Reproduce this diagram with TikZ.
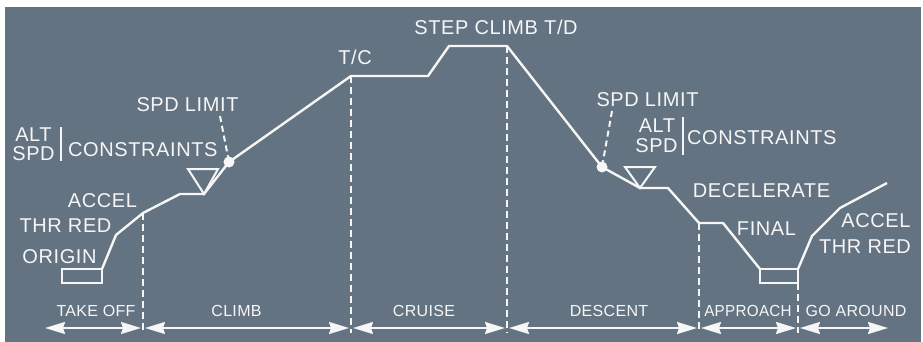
\documentclass[tikz,border=0pt]{standalone}
\usepackage{fontspec}
\setmainfont{Liberation Sans}
\newfontfamily\lblfont[LetterSpace=3]{Liberation Sans}
\newfontfamily\phfont[LetterSpace=2]{Liberation Sans}
\usetikzlibrary{arrows.meta}
\definecolor{bgslate}{RGB}{99,115,129}
\definecolor{ink}{RGB}{246,246,246}
\tikzset{
  lbl/.style={text=ink,inner sep=0pt,anchor=base,font=\lblfont\fontsize{20}{22}\selectfont},
  phase/.style={text=ink,inner sep=0pt,anchor=base,font=\phfont\fontsize{16}{18}\selectfont},
  profile/.style={draw=ink,line width=2.4pt,line join=miter},
  vdash/.style={draw=ink,line width=2pt,dash pattern=on 7pt off 4pt},
  ldash/.style={draw=ink,line width=2pt,dash pattern=on 6pt off 4pt},
  span/.style={draw=ink,line width=2pt,{Stealth[length=20pt,width=12pt,inset=2pt]}-{Stealth[length=20pt,width=12pt,inset=2pt]}},
  bar/.style={draw=ink,line width=2pt},
  spot/.style={circle,fill=ink,inner sep=0pt,minimum size=11pt}
}
\begin{document}
\begin{tikzpicture}[x=1pt,y=-1pt]
\useasboundingbox (0,0) rectangle (923,342);
\fill[white] (0,0) rectangle (923,342);
\fill[bgslate] (5,7) rectangle (921,342);

% profile points
\coordinate (to0) at (102,269);
\coordinate (to1) at (116,235);
\coordinate (to2) at (143,213);
\coordinate (cl1) at (180,194);
\coordinate (cl2) at (204,194);
\coordinate (cl3) at (229,162);
\coordinate (tc) at (351,76);
\coordinate (cr1) at (428,76);
\coordinate (cr2) at (449,46);
\coordinate (td) at (507,46);
\coordinate (de1) at (602,167);
\coordinate (de2) at (640,188);
\coordinate (de3) at (668,188);
\coordinate (ap0) at (699,223);
\coordinate (ap1) at (723,223);
\coordinate (ap2) at (760,269);
\coordinate (ga0) at (798,269);
\coordinate (ga1) at (812,236);
\coordinate (ga2) at (840,208);
\coordinate (ga3) at (887,183);

% runway boxes
\draw[profile,line width=2pt] (62,269) rectangle (102,283);
\draw[profile,line width=2pt] (760,269) rectangle (798,283);

% flight path
\draw[profile] (to0) -- (to1) -- (to2) -- (cl1) -- (cl2) -- (cl3) -- (tc) -- (cr1) -- (cr2) -- (td) -- (de1) -- (de2) -- (de3) -- (ap0) -- (ap1) -- (ap2);
\draw[profile] (ga0) -- (ga1) -- (ga2) -- (ga3);

% constraint triangles
\draw[bar] (188,169) -- (218,169) -- (cl2) -- cycle;
\draw[bar] (625,167) -- (655,167) -- (de2) -- cycle;

% speed limit dots
\node[spot] (dotL) at (cl3) {};
\node[spot] (dotR) at (de1) {};

% labels
\node[lbl] (spdL) at (187.5,112) {SPD LIMIT};
\node[lbl] (altL) at (33.5,142) {ALT};
\node[lbl] (spdaL) at (33.5,160) {SPD};
\node[lbl,anchor=base west] (conL) at (68,157) {CONSTRAINTS};
\node[lbl] (accL) at (102.5,207) {ACCEL};
\node[lbl] (thrL) at (65.5,232) {THR RED};
\node[lbl] (orig) at (59.5,263) {ORIGIN};
\node[lbl] (tcl) at (355,65) {T/C};
\node[lbl] (step) at (496,35) {STEP CLIMB T/D};
\node[lbl] (spdR) at (647.5,107) {SPD LIMIT};
\node[lbl] (altR) at (657,132) {ALT};
\node[lbl] (spdaR) at (656.5,152) {SPD};
\node[lbl,anchor=base west] (conR) at (687,145) {CONSTRAINTS};
\node[lbl] (decel) at (761.5,197) {DECELERATE};
\node[lbl] (final) at (766.5,235) {FINAL};
\node[lbl] (accR) at (876,227) {ACCEL};
\node[lbl] (thrR) at (865,253) {THR RED};

% label bars
\draw[bar] (61,127) -- (61,161);
\draw[bar] (683,117) -- (683,155);

% speed limit leaders
\coordinate (slL) at (220,116);
\coordinate (slR) at (612,111);
\draw[ldash] (slL) -- (dotL.center);
\draw[ldash] (slR) -- (dotR.center);

% phase boundaries
\coordinate (b1) at (143,333);
\coordinate (b2) at (351,333);
\coordinate (b3) at (507,333);
\coordinate (b4) at (699,333);
\coordinate (b5) at (798,333);
\draw[vdash] (to2) -- (b1);
\draw[vdash] (tc) -- (b2);
\draw[vdash] (td) -- (b3);
\draw[vdash] (ap0) -- (b4);
\draw[vdash] (798,283) -- (b5);

% phase spans
\coordinate (s0) at (45,328);
\coordinate (s1a) at (141,328);
\coordinate (s1b) at (145,328);
\coordinate (s2a) at (349,328);
\coordinate (s2b) at (353,328);
\coordinate (s3a) at (505,328);
\coordinate (s3b) at (509,328);
\coordinate (s4a) at (697,328);
\coordinate (s4b) at (701,328);
\coordinate (s5a) at (796,328);
\coordinate (s5b) at (800,328);
\coordinate (s6) at (888,328);
\draw[span] (s0) -- (s1a);
\draw[span] (s1b) -- (s2a);
\draw[span] (s2b) -- (s3a);
\draw[span] (s3b) -- (s4a);
\draw[span] (s4b) -- (s5a);
\draw[span] (s5b) -- (s6);

% phase names
\node[phase] (pto) at (96,316) {TAKE OFF};
\node[phase] (pcl) at (236.5,316) {CLIMB};
\node[phase] (pcr) at (424,316) {CRUISE};
\node[phase] (pde) at (609,316) {DESCENT};
\node[phase,xscale=0.95] (pap) at (748,316) {APPROACH};
\node[phase] (pga) at (856,316) {GO AROUND};
\end{tikzpicture}
\end{document}
